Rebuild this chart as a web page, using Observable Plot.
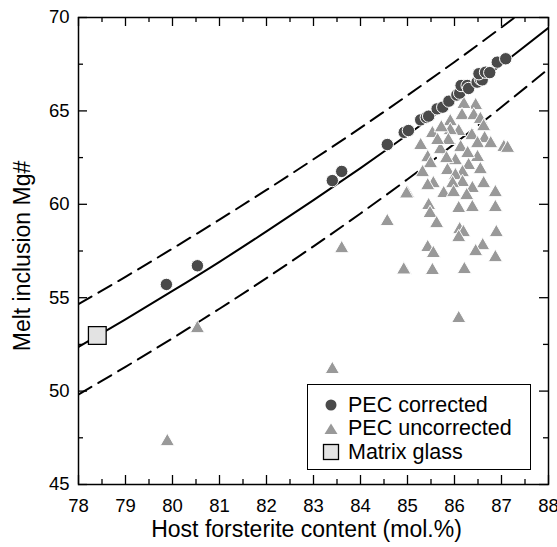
<!DOCTYPE html>
<html>
<head>
<meta charset="utf-8">
<script src="https://cdn.jsdelivr.net/npm/d3@7"></script>
<script src="https://cdn.jsdelivr.net/npm/@observablehq/plot@0.6"></script>
<style>
  html, body { margin: 0; padding: 0; background: #fff; }
  #wrap { position: relative; width: 557px; height: 547px; font-family: "Liberation Sans", Arial, sans-serif; }
  #legend { position: absolute; left: 307px; top: 384px; width: 222px; height: 84px; border: 1.5px solid #000; background: #fff; }
  .row { position: absolute; left: 0; height: 24px; display: flex; align-items: center; font-size: 21.5px; color: #000; white-space: nowrap; }
  .row svg { width: 34px; height: 24px; margin-left: 6px; margin-right: 0px; }
</style>
</head>
<body>
<div id="wrap">
  <div id="chart"></div>
  <div id="legend"></div>
</div>
<script>
// ---- data ----
const corrFo = [79.87, 80.53, 83.40, 83.60, 84.57, 84.93, 85.02, 85.28, 85.40, 85.45, 85.63, 85.75, 85.88, 86.05, 86.11, 86.14, 86.27, 86.30, 86.48, 86.55, 86.59, 86.52, 86.66, 86.75, 86.91, 87.09];
const corrMg = [55.71, 56.71, 61.27, 61.76, 63.20, 63.85, 63.95, 64.52, 64.65, 64.72, 65.11, 65.20, 65.52, 65.85, 65.95, 66.36, 66.36, 66.20, 66.54, 66.70, 66.66, 66.99, 67.07, 67.05, 67.61, 67.79];

const uncFo = [86.45, 86.20, 86.16, 86.41, 86.55, 85.91, 86.62, 85.53, 86.09, 85.91, 85.72, 86.37, 86.64, 85.28, 85.87, 86.13, 85.70, 86.49, 86.77, 87.05, 87.13, 85.43, 85.49, 86.02, 86.49, 86.28, 85.83, 86.30, 85.64, 85.85, 85.32, 86.17, 86.55, 86.02, 85.55, 85.43, 86.17, 85.96, 85.77, 85.00, 85.98, 86.62, 86.87, 86.38, 86.26, 86.09, 85.45, 86.38, 86.87, 85.48, 85.62, 86.11, 86.19, 86.09, 86.89, 85.43, 85.55, 86.60, 86.45, 86.87, 84.94, 85.53, 86.21, 86.09, 84.98, 84.57, 83.60, 84.92, 83.40, 79.89, 80.53];
const uncMg = [65.29, 65.35, 64.75, 64.75, 64.55, 64.43, 64.16, 63.79, 63.90, 63.95, 64.10, 63.68, 63.52, 63.15, 63.42, 63.04, 62.93, 63.25, 63.25, 63.05, 63.00, 62.50, 62.18, 62.34, 62.51, 62.72, 62.45, 62.08, 63.42, 61.81, 61.70, 61.70, 61.86, 61.54, 61.11, 61.00, 61.17, 61.11, 60.58, 60.58, 60.63, 61.11, 60.63, 60.85, 60.47, 59.78, 59.94, 59.83, 59.83, 59.51, 58.97, 58.65, 58.49, 58.22, 58.49, 57.69, 57.37, 57.79, 57.47, 57.15, 56.46, 56.46, 56.51, 53.89, 60.56, 59.08, 57.63, 56.49, 51.16, 47.30, 53.35];

const glassFo = [78.40];
const glassMg = [52.98];

// equilibrium curves at whole Fo values
const curveFo = [78, 79, 80, 81, 82, 83, 84, 85, 86, 87, 88];
const eqMid  = [52.36, 53.84, 55.36, 56.92, 58.55, 60.22, 61.94, 63.72, 65.57, 67.48, 69.45];
const eqHigh = [54.66, 56.12, 57.63, 59.18, 60.77, 62.41, 64.09, 65.83, 67.62, 69.47, 71.37];
const eqLow  = [49.82, 51.30, 52.83, 54.41, 56.05, 57.75, 59.51, 61.34, 63.24, 65.21, 67.25];

const xTicks = [78, 79, 80, 81, 82, 83, 84, 85, 86, 87, 88];
const xMinor = [78.5, 79.5, 80.5, 81.5, 82.5, 83.5, 84.5, 85.5, 86.5, 87.5];
const yTicks = [45, 50, 55, 60, 65, 70];
const yMinor = [47.5, 52.5, 57.5, 62.5, 67.5];

const legendItems = ["PEC corrected", "PEC uncorrected", "Matrix glass"];

// ---- build tables ----
const corr = corrFo.map((x, i) => ({x, y: corrMg[i]}));
const unc = uncFo.map((x, i) => ({x, y: uncMg[i]}));
const glass = glassFo.map((x, i) => ({x, y: glassMg[i]}));
const mid = curveFo.map((x, i) => ({x, y: eqMid[i]}));
const high = curveFo.map((x, i) => ({x, y: eqHigh[i]}));
const low = curveFo.map((x, i) => ({x, y: eqLow[i]}));

const W = 557, H = 547, mL = 78, mR = 9, mT = 17, mB = 63;
const pw = W - mL - mR, ph = H - mT - mB;
const major = 9, minor = 5;
const font = "'Liberation Sans', Arial, sans-serif";

const chart = Plot.plot({
  width: W, height: H,
  marginLeft: mL, marginRight: mR, marginTop: mT, marginBottom: mB,
  style: {fontFamily: font, fontSize: "18.5px", color: "#000", background: "#fff", overflow: "visible"},
  x: {domain: [78, 88], ticks: xTicks, tickSize: 0, tickPadding: 14, label: null, tickFormat: d => String(d)},
  y: {domain: [45, 70], ticks: yTicks, tickSize: 0, tickPadding: 9, label: null, tickFormat: d => String(d)},
  marks: [
    Plot.line(high, {x: "x", y: "y", curve: "natural", stroke: "#000", strokeWidth: 2, strokeDasharray: "15,8", clip: true}),
    Plot.line(low, {x: "x", y: "y", curve: "natural", stroke: "#000", strokeWidth: 2, strokeDasharray: "15,8", clip: true}),
    Plot.line(mid, {x: "x", y: "y", curve: "natural", stroke: "#000", strokeWidth: 2, clip: true}),
    Plot.dot(unc, {x: "x", y: "y", symbol: "triangle", r: 5.3, fill: "#999999", stroke: "#fff", strokeWidth: 1}),
    Plot.dot(corr, {x: "x", y: "y", symbol: "circle", r: 6.2, fill: "#4a4a4a", stroke: "#fff", strokeWidth: 1}),
    Plot.dot(glass, {x: "x", y: "y", symbol: "square", r: 10, fill: "#e3e3e3", stroke: "#000", strokeWidth: 1.3}),
    // inward ticks on all four sides
    Plot.ruleX(xTicks, {stroke: "#000", strokeWidth: 1.3, insetTop: ph - major}),
    Plot.ruleX(xTicks, {stroke: "#000", strokeWidth: 1.3, insetBottom: ph - major}),
    Plot.ruleX(xMinor, {stroke: "#000", strokeWidth: 1.3, insetTop: ph - minor}),
    Plot.ruleX(xMinor, {stroke: "#000", strokeWidth: 1.3, insetBottom: ph - minor}),
    Plot.ruleY(yTicks, {stroke: "#000", strokeWidth: 1.3, insetRight: pw - major}),
    Plot.ruleY(yTicks, {stroke: "#000", strokeWidth: 1.3, insetLeft: pw - major}),
    Plot.ruleY(yMinor, {stroke: "#000", strokeWidth: 1.3, insetRight: pw - minor}),
    Plot.ruleY(yMinor, {stroke: "#000", strokeWidth: 1.3, insetLeft: pw - minor}),
    Plot.frame({stroke: "#000", strokeWidth: 1.5}),
    Plot.text(["Host forsterite content (mol.%)"], {text: d => d, frameAnchor: "bottom", textAnchor: "middle", dy: 45, dx: -7, fontSize: 23, lineAnchor: "middle"}),
    Plot.text(["Melt inclusion Mg#"], {text: d => d, frameAnchor: "left", textAnchor: "middle", dx: -56, dy: 5, rotate: -90, fontSize: 23, lineAnchor: "middle"})
  ]
});
document.getElementById("chart").appendChild(chart);

// legend (inside the plot area, drawn over it)
const legend = document.getElementById("legend");
const symbols = [
  `<svg viewBox="0 0 34 24"><circle cx="17" cy="12" r="5.5" fill="#4a4a4a"/></svg>`,
  `<svg viewBox="0 0 34 24"><path d="M17,6.5 L23.5,17 L10.5,17 Z" fill="#999999"/></svg>`,
  `<svg viewBox="0 0 34 24"><rect x="9.5" y="4.5" width="15" height="15" fill="#e3e3e3" stroke="#000" stroke-width="1.3"/></svg>`
];
legendItems.forEach((label, i) => {
  const row = document.createElement("div");
  row.className = "row";
  row.style.top = (8 + i * 23.5) + "px";
  row.innerHTML = symbols[i] + `<span>${label}</span>`;
  legend.appendChild(row);
});
</script>
</body>
</html>
